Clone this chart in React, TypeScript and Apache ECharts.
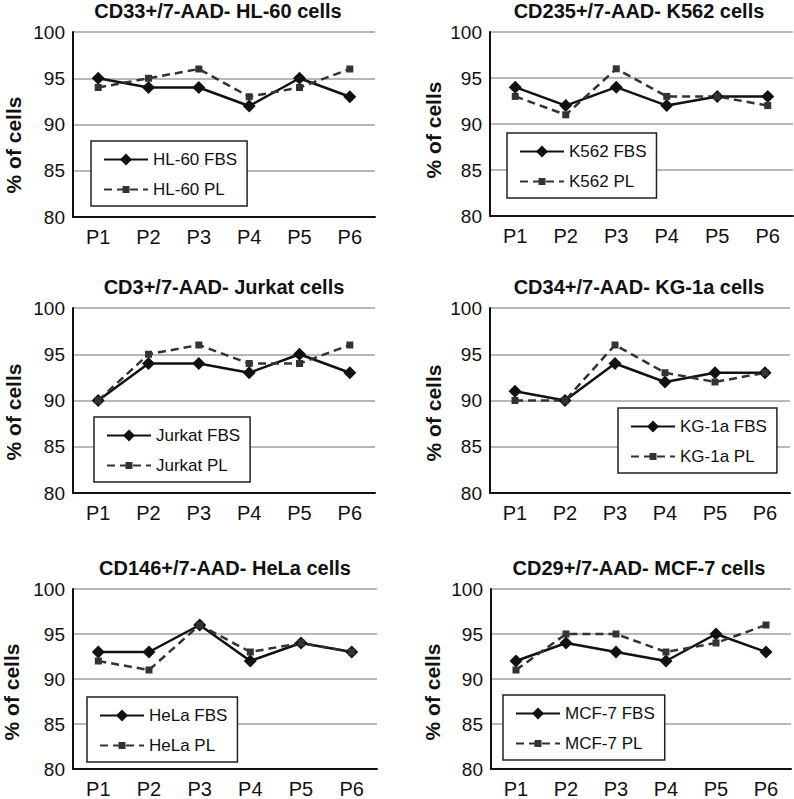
import React, { useEffect, useRef } from "react";
import * as echarts from "echarts";

// ---- data ----
const categories = ["P1", "P2", "P3", "P4", "P5", "P6"];
const yTicks = [80, 85, 90, 95, 100];

const hl60FBS = [95, 94, 94, 92, 95, 93];
const hl60PL = [94, 95, 96, 93, 94, 96];
const k562FBS = [94, 92, 94, 92, 93, 93];
const k562PL = [93, 91, 96, 93, 93, 92];
const jurkatFBS = [90, 94, 94, 93, 95, 93];
const jurkatPL = [90, 95, 96, 94, 94, 96];
const kg1aFBS = [91, 90, 94, 92, 93, 93];
const kg1aPL = [90, 90, 96, 93, 92, 93];
const helaFBS = [93, 93, 96, 92, 94, 93];
const helaPL = [92, 91, 96, 93, 94, 93];
const mcf7FBS = [92, 94, 93, 92, 95, 93];
const mcf7PL = [91, 95, 95, 93, 94, 96];

const titles = [
  "CD33+/7-AAD- HL-60 cells",
  "CD235+/7-AAD- K562 cells",
  "CD3+/7-AAD- Jurkat cells",
  "CD34+/7-AAD- KG-1a cells",
  "CD146+/7-AAD- HeLa cells",
  "CD29+/7-AAD- MCF-7 cells",
];
const cellNames = ["HL-60", "K562", "Jurkat", "KG-1a", "HeLa", "MCF-7"];
const fbsSeries = [hl60FBS, k562FBS, jurkatFBS, kg1aFBS, helaFBS, mcf7FBS];
const plSeries = [hl60PL, k562PL, jurkatPL, kg1aPL, helaPL, mcf7PL];
const yAxisName = "% of cells";

// ---- layout ----
const FONT = "'Liberation Sans', Arial, Helvetica, sans-serif";
const grids = [
  { left: 73, top: 32, width: 302, height: 185 },
  { left: 490, top: 32, width: 303, height: 184 },
  { left: 73, top: 308, width: 302, height: 185 },
  { left: 490, top: 308, width: 300, height: 185 },
  { left: 73, top: 589, width: 304, height: 184 },
  { left: 491, top: 589, width: 300, height: 184 },
];
const titlePos = [
  { x: 218, y: 11 },
  { x: 639, y: 11 },
  { x: 224, y: 287 },
  { x: 639, y: 287 },
  { x: 225, y: 568 },
  { x: 639, y: 568 },
];
const namePos = [
  { x: 13, y: 145 },
  { x: 433, y: 130 },
  { x: 13, y: 412 },
  { x: 433, y: 413 },
  { x: 11, y: 692 },
  { x: 432, y: 692 },
];
const legendPos = [
  { left: 91, top: 141 },
  { left: 507, top: 133 },
  { left: 94, top: 417 },
  { left: 618, top: 408 },
  { left: 87, top: 697 },
  { left: 503, top: 695 },
];

const SQUARE = "path://M0,0M12,12M2.5,2.5L9.5,2.5L9.5,9.5L2.5,9.5Z";

export default function App() {
  const ref = useRef<HTMLDivElement>(null);

  useEffect(() => {
    if (!ref.current) return;
    const chart = echarts.init(ref.current, undefined, { renderer: "svg" });

    const option: any = {
      animation: false,
      backgroundColor: "#ffffff",
      title: titles.map((t, i) => ({
        text: t,
        left: titlePos[i].x,
        top: titlePos[i].y,
        padding: 0,
        textAlign: "center",
        textVerticalAlign: "middle",
        textStyle: { fontFamily: FONT, fontSize: 20, fontWeight: "bold", color: "#111" },
      })),
      grid: grids.map((g) => ({ ...g, containLabel: false })),
      xAxis: grids.map((_, i) => ({
        type: "category",
        gridIndex: i,
        data: categories,
        boundaryGap: true,
        axisTick: { show: false },
        axisLine: { show: true, lineStyle: { color: "#111", width: 2 } },
        axisLabel: { fontFamily: FONT, fontSize: 20, color: "#111", margin: 10 },
        splitLine: { show: false },
      })),
      yAxis: grids.map((_, i) => ({
        type: "value",
        gridIndex: i,
        min: yTicks[0],
        max: yTicks[yTicks.length - 1],
        interval: 5,
        axisTick: { show: false },
        axisLine: { show: true, lineStyle: { color: "#111", width: 2 } },
        axisLabel: { fontFamily: FONT, fontSize: 19, color: "#111", margin: 8 },
        splitLine: { show: true, lineStyle: { color: "#b8b8b8", width: 2 } },
      })),
      legend: cellNames.map((c, i) => ({
        data: [c + " FBS", c + " PL"],
        orient: "vertical",
        left: legendPos[i].left,
        top: legendPos[i].top,
        itemWidth: 44,
        itemHeight: 15,
        itemGap: 13,
        padding: [10, 10, 8, 12],
        borderColor: "#222",
        borderWidth: 1.5,
        borderRadius: 0,
        backgroundColor: "#ffffff",
        textStyle: { fontFamily: FONT, fontSize: 17, color: "#111" },
      })),
      series: cellNames.flatMap((c, i) => [
        {
          name: c + " FBS",
          type: "line",
          xAxisIndex: i,
          yAxisIndex: i,
          data: fbsSeries[i],
          symbol: "diamond",
          symbolSize: 13,
          lineStyle: { color: "#111", width: 2.5 },
          itemStyle: { color: "#111" },
        },
        {
          name: c + " PL",
          type: "line",
          xAxisIndex: i,
          yAxisIndex: i,
          data: plSeries[i],
          symbol: SQUARE,
          symbolSize: 12,
          lineStyle: { color: "#333", width: 2.5, type: [8, 5] },
          itemStyle: { color: "#333" },
        },
      ]),
      graphic: namePos.map((p) => ({
        type: "text",
        x: p.x,
        y: p.y,
        rotation: Math.PI / 2,
        style: {
          text: yAxisName,
          fontFamily: FONT,
          fontSize: 21,
          fontWeight: "bold",
          fill: "#111",
          align: "center",
          verticalAlign: "middle",
          textAlign: "center",
          textVerticalAlign: "middle",
        },
      })),
    };

    chart.setOption(option);
    return () => chart.dispose();
  }, []);

  return (
    <div
      ref={ref}
      style={{ position: "absolute", left: 0, top: 0, width: 794, height: 799 }}
    />
  );
}
